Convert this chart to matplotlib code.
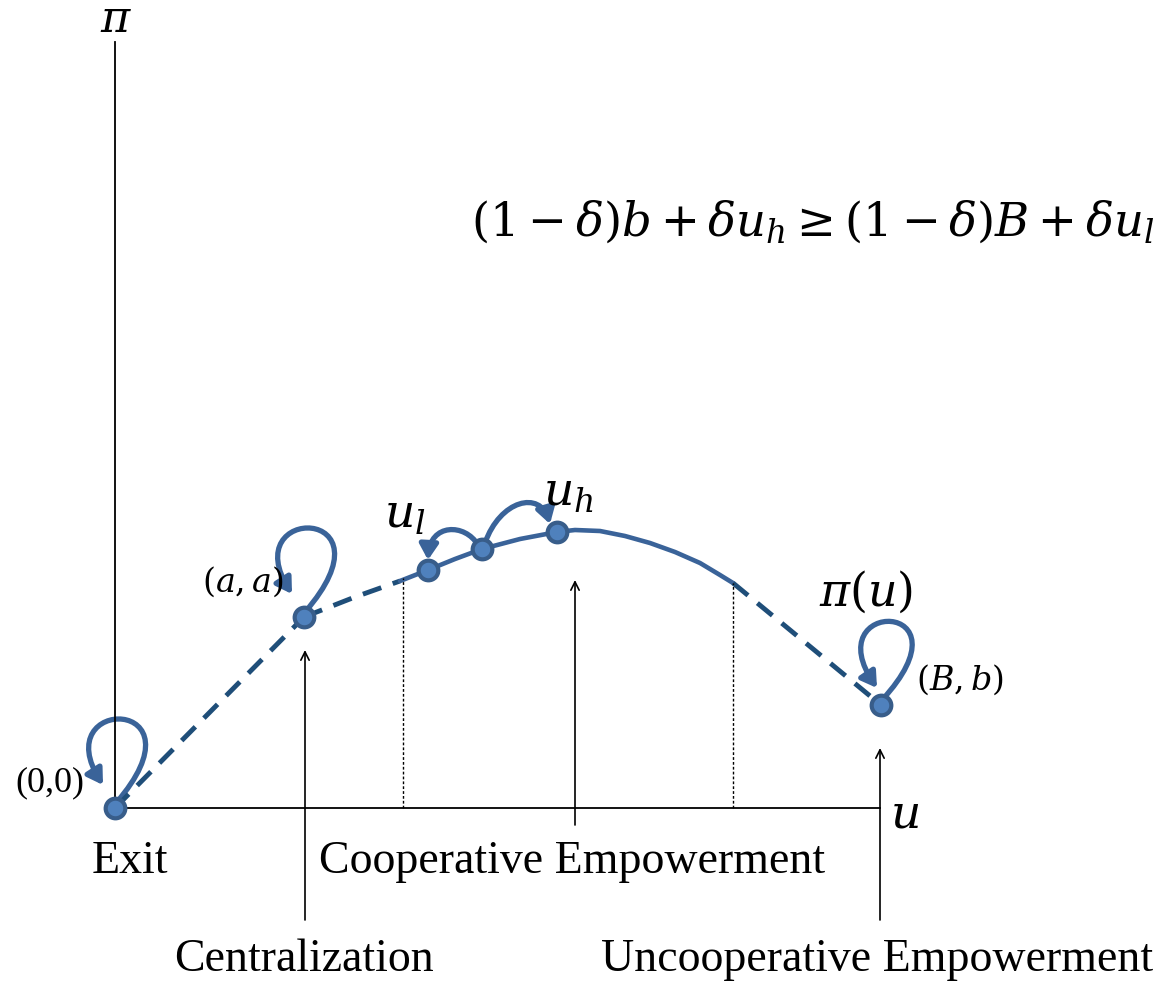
import matplotlib
matplotlib.use("Agg")
import matplotlib.pyplot as plt
from matplotlib.patches import FancyArrowPatch
from matplotlib.path import Path

# Diagram data (u, pi)
origin = (0, 0)
point_aa = (189, 191)
point_ul = (313, 238)
point_mid = (367, 259)
point_uh = (442, 276)
point_Bb = (766, 103)

# pi(u) curve pieces
dash1_u = [0, 189]
dash1_pi = [0, 191]
dash2_u = [189, 240, 285]
dash2_pi = [191, 211, 227]
solid_u = [285, 313, 340, 367, 405, 442, 460, 485, 510, 535, 560, 585, 605, 618]
solid_pi = [227, 238, 249, 259, 269, 276, 278, 277, 272, 265, 256, 245, 233, 225]
dash3_u = [618, 766]
dash3_pi = [225, 103]

# regions
cutoffs_u = [288, 618]
cutoffs_pi = [230, 225]

# upward pointers (u, pi start, pi end)
pointers = [(190, -112, 158), (460, -17, 228), (765, -112, 60)]

# loops / transitions (cubic bezier control points)
loops = [
    [(1, 5), (95, 113), (-70, 113), (-12, 23)],
    [(190, 196), (284, 304), (119, 304), (177, 214)],
    [(363, 263), (350, 285), (315, 285), (313, 248)],
    [(370, 265), (385, 308), (425, 318), (435, 284)],
    [(767, 108), (861, 210), (700, 210), (762, 120)],
]

dark = "#1f4e79"
mid_blue = "#3a6399"
face = "#4f81bd"
edge = "#385d8a"

plt.rcParams["mathtext.fontset"] = "dejavuserif"
serif = "Liberation Serif"

fig = plt.figure(figsize=(11.64, 9.82), dpi=100)
ax = fig.add_axes([0, 0, 1, 1])
ax.set_xlim(-115, 1049)
ax.set_ylim(-174, 808)
ax.axis("off")

# axes lines
ax.plot([0, 0], [0, 766], color="black", lw=1.3)
ax.plot([0, 765], [0, 0], color="black", lw=1.3)

# curve
ax.plot(dash1_u, dash1_pi, color=dark, lw=3.5, ls=(0, (4, 2.5)))
ax.plot(dash2_u, dash2_pi, color=dark, lw=3.5, ls=(0, (4, 2.5)))
ax.plot(solid_u, solid_pi, color=mid_blue, lw=3.3, solid_capstyle="round")
ax.plot(dash3_u, dash3_pi, color=dark, lw=3.5, ls=(0, (4, 2.5)))

for cu, cp in zip(cutoffs_u, cutoffs_pi):
    ax.plot([cu, cu], [0, cp], color="black", lw=1, ls=(0, (2, 1.5)))

for pu, p0, p1 in pointers:
    ax.annotate("", xy=(pu, p1), xytext=(pu, p0),
                arrowprops=dict(arrowstyle="->,head_length=0.6,head_width=0.3",
                                color="black", lw=1.2, shrinkA=0, shrinkB=0))

codes = [Path.MOVETO, Path.CURVE4, Path.CURVE4, Path.CURVE4]
for verts in loops:
    arr = FancyArrowPatch(path=Path(verts, codes),
                          arrowstyle="-|>,head_length=9,head_width=5.5",
                          color=mid_blue, lw=3.8, shrinkA=0, shrinkB=0)
    ax.add_patch(arr)

pts = [origin, point_aa, point_ul, point_mid, point_uh, point_Bb]
ax.scatter([p[0] for p in pts], [p[1] for p in pts], s=200, color=face,
           edgecolor=edge, linewidths=3, zorder=5)

# labels
ax.text(1, 776, r"$\pi$", fontsize=32, ha="center", va="baseline")
ax.text(790, -7, r"$u$", fontsize=34, ha="center", va="center")
ax.text(15, -54, "Exit", family=serif, fontsize=33, ha="center", va="center")
ax.text(457, -54, "Cooperative Empowerment", family=serif, fontsize=33,
        ha="center", va="center")
ax.text(189, -152, "Centralization", family=serif, fontsize=33,
        ha="center", va="center")
ax.text(762, -152, "Uncooperative Empowerment", family=serif, fontsize=33,
        ha="center", va="center")
ax.text(-65, 25, "(0,0)", family=serif, fontsize=26, ha="center", va="center")
ax.text(128, 226, r"$(a,a)$", fontsize=24, ha="center", va="center")
ax.text(290, 293, r"$u_l$", fontsize=34, ha="center", va="center")
ax.text(453, 315, r"$u_h$", fontsize=34, ha="center", va="center")
ax.text(751, 216, r"$\pi(u)$", fontsize=33, ha="center", va="center")
ax.text(845, 128, r"$(B,b)$", fontsize=24, ha="center", va="center")
ax.text(698, 586, r"$(1-\delta)b+\delta u_h \geq (1-\delta)B+\delta u_l$",
        fontsize=33.5, ha="center", va="center")

fig.savefig("out.png", dpi=100)
